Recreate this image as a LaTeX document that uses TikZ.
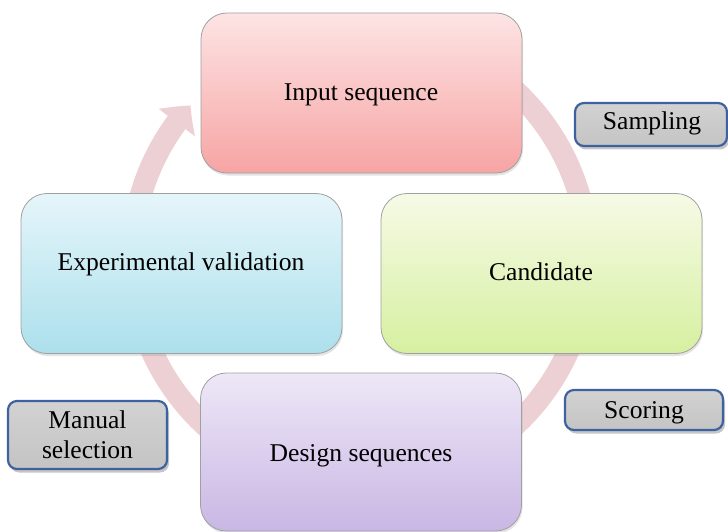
\documentclass[tikz,border=0pt]{standalone}
\usepackage{fontspec}
\setmainfont{Liberation Serif}
\usetikzlibrary{arrows.meta,bending,shadows}

% ring arrow and box colours
\definecolor{ringpink}{RGB}{236,208,212}
\definecolor{stageedge}{RGB}{160,160,160}
\definecolor{inTop}{RGB}{253,228,228}
\definecolor{inBot}{RGB}{247,164,164}
\definecolor{cdTop}{RGB}{246,250,230}
\definecolor{cdBot}{RGB}{214,240,160}
\definecolor{dsTop}{RGB}{238,231,247}
\definecolor{dsBot}{RGB}{201,183,228}
\definecolor{exTop}{RGB}{229,245,250}
\definecolor{exBot}{RGB}{172,224,236}
\definecolor{tagTop}{RGB}{210,210,210}
\definecolor{tagBot}{RGB}{196,196,196}
\definecolor{tagedge}{RGB}{62,98,160}

\begin{document}
\begin{tikzpicture}[x=1pt,y=-1pt,
  stage/.style={rectangle, rounded corners=26pt, draw=stageedge, line width=0.8pt,
    minimum width=321pt, minimum height=160pt,
    drop shadow={opacity=0.22, shadow xshift=1pt, shadow yshift=-2.5pt}},
  tag/.style={rectangle, rounded corners=9pt, draw=tagedge, line width=2.2pt,
    top color=tagTop, bottom color=tagBot, inner sep=0pt, align=center,
    font=\fontsize{25.6}{30}\selectfont,
    drop shadow={opacity=0.45, shadow xshift=2pt, shadow yshift=-3.5pt}},
  caption/.style={font=\fontsize{25.6}{30}\selectfont, inner sep=0pt, anchor=base}
]
\useasboundingbox (0,0) rectangle (728,532);

% the cycle arrow running clockwise behind the four stages
\draw[ringpink, line width=22pt, -{Triangle[width=44pt,length=22pt,bend]}]
  (360,258) ++(-80:228) arc[start angle=-80, end angle=222, radius=228];

% the four stages of the cycle
\node[stage, top color=inTop, bottom color=inBot] (input) at (361.5,93) {};
\node[stage, top color=cdTop, bottom color=cdBot] (cand) at (541.5,273.5) {};
\node[stage, minimum height=158pt, top color=dsTop, bottom color=dsBot] (design) at (361,452) {};
\node[stage, top color=exTop, bottom color=exBot] (exper) at (181.5,273.5) {};

% stage captions, placed by their baselines
\node[caption] (inputlabel) at (361,100.7) {Input sequence};
\node[caption] (candlabel) at (541,280.7) {Candidate};
\node[caption] (designlabel) at (361,461.7) {Design sequences};
\node[caption] (experlabel) at (181,270) {Experimental validation};

% step labels
\node[tag, minimum width=152pt, minimum height=43pt] (sampling) at (651,124.5) {};
\node[caption] (samplinglabel) at (652,130) {Sampling};
\node[tag, minimum width=158pt, minimum height=40pt] (scoring) at (644,410) {};
\node[caption] (scoringlabel) at (644,418.3) {Scoring};
\node[tag, minimum width=159pt, minimum height=68pt] (manual) at (87.5,435) {Manual\\selection};
\end{tikzpicture}
\end{document}
